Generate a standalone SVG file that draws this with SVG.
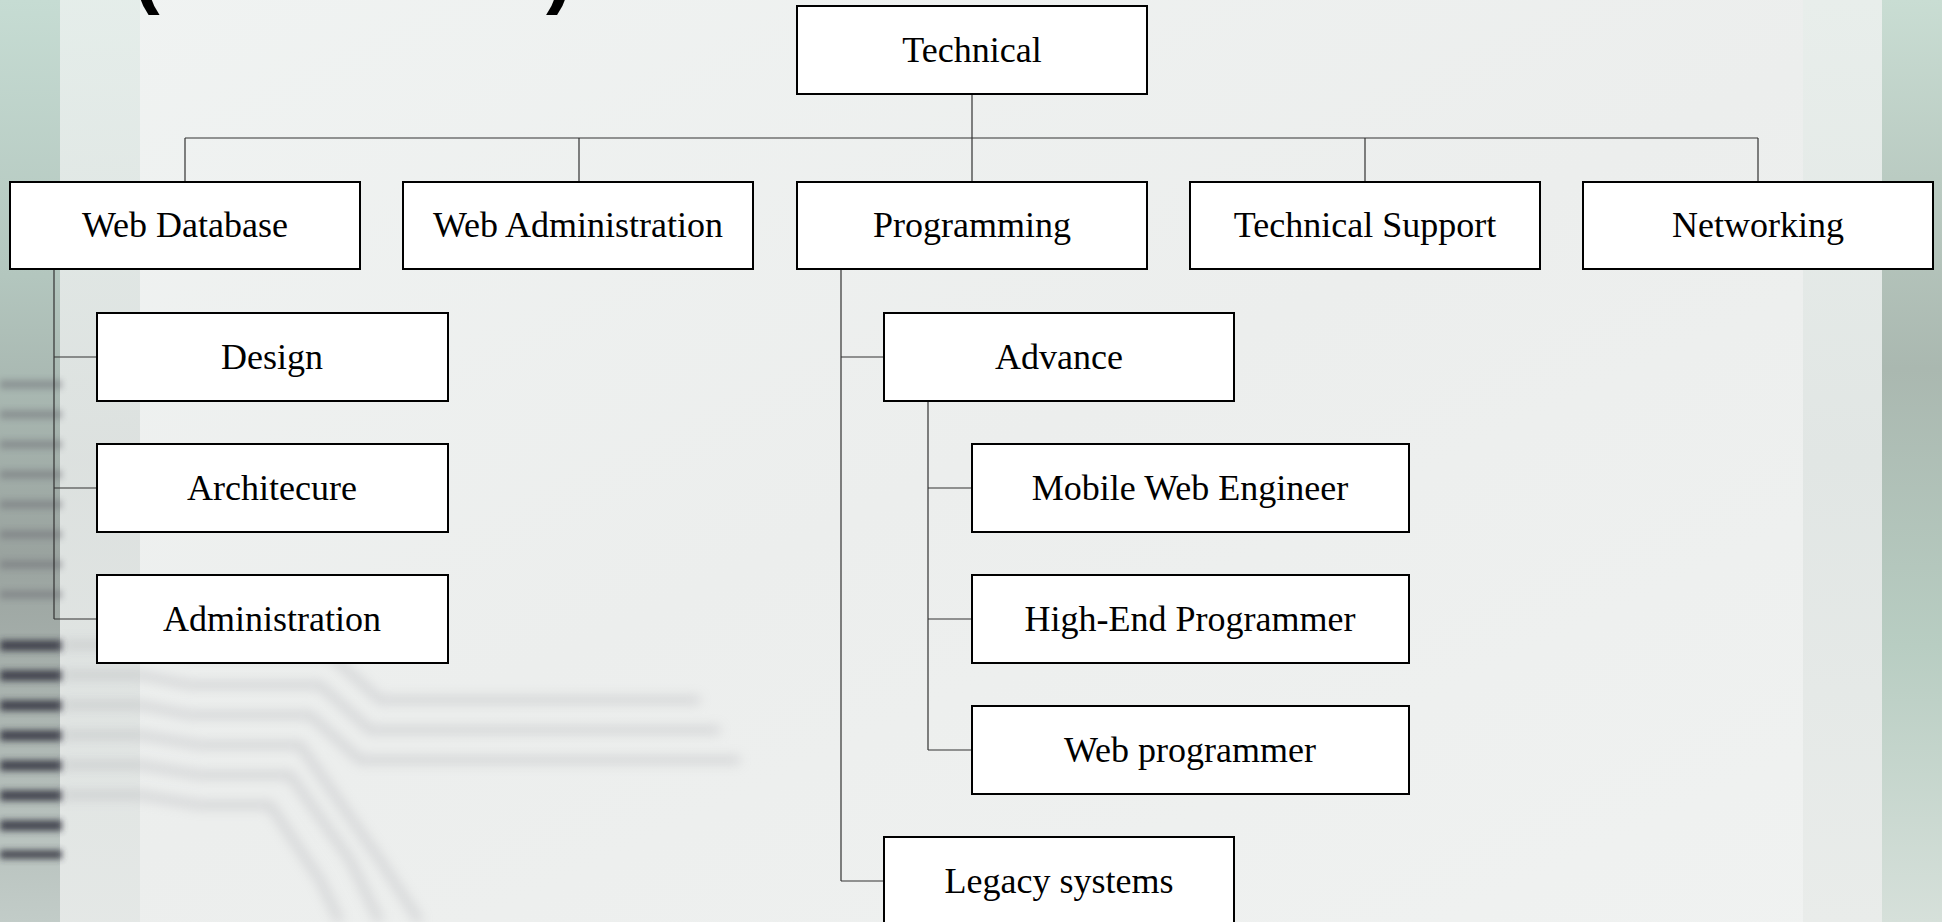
<svg xmlns="http://www.w3.org/2000/svg" width="1942" height="922" viewBox="0 0 1942 922">
<defs>
<linearGradient id="bg" x1="0" y1="0" x2="1" y2="1">
<stop offset="0" stop-color="#f0f3f2"/>
<stop offset="0.5" stop-color="#eceeed"/>
<stop offset="1" stop-color="#f0f2f1"/>
</linearGradient>
<linearGradient id="leftband" x1="0" y1="0" x2="0" y2="1">
<stop offset="0" stop-color="#c6dcd3"/>
<stop offset="0.3" stop-color="#b3c6be"/>
<stop offset="0.6" stop-color="#9aa39f"/>
<stop offset="1" stop-color="#c2ccc8"/>
</linearGradient>
<linearGradient id="leftband2" x1="0" y1="0" x2="0" y2="1">
<stop offset="0" stop-color="#e2ece8"/>
<stop offset="0.5" stop-color="#d8dddb"/>
<stop offset="1" stop-color="#e2e6e4"/>
</linearGradient>
<linearGradient id="rightband" x1="0" y1="0" x2="0" y2="1">
<stop offset="0" stop-color="#c9ddd3"/>
<stop offset="0.4" stop-color="#aab8b0"/>
<stop offset="0.7" stop-color="#b8cdc2"/>
<stop offset="1" stop-color="#d6e0da"/>
</linearGradient>
<linearGradient id="rightband2" x1="0" y1="0" x2="0" y2="1">
<stop offset="0" stop-color="#e8eeeb"/>
<stop offset="0.5" stop-color="#e1e6e4"/>
<stop offset="1" stop-color="#e9ecea"/>
</linearGradient>
<filter id="blur3" x="-10%" y="-10%" width="120%" height="120%"><feGaussianBlur stdDeviation="3"/></filter>
<filter id="blur6" x="-10%" y="-10%" width="120%" height="120%"><feGaussianBlur stdDeviation="6"/></filter>
</defs>
<style>
.box{fill:#ffffff;stroke:#000000;stroke-width:2}
.lbl{font-family:"Liberation Serif","Times New Roman",serif;font-size:36px;fill:#000000;text-anchor:middle}
.con{fill:none;stroke:#333333;stroke-width:1.2}
.ttl{font-family:"Liberation Sans",Arial,sans-serif;font-weight:bold;font-size:80px;fill:#000000}
</style>
<!-- background -->
<rect x="0" y="0" width="1942" height="922" fill="url(#bg)"/>
<rect x="0" y="0" width="60" height="922" fill="url(#leftband)"/>
<rect x="60" y="0" width="80" height="922" fill="url(#leftband2)" opacity="0.8"/>
<g fill="#6a6a72" opacity="0.45" filter="url(#blur3)">
<rect x="0" y="380" width="62" height="9"/>
<rect x="0" y="410" width="62" height="9"/>
<rect x="0" y="440" width="62" height="9"/>
<rect x="0" y="470" width="62" height="9"/>
<rect x="0" y="500" width="62" height="9"/>
<rect x="0" y="530" width="62" height="9"/>
<rect x="0" y="560" width="62" height="9"/>
<rect x="0" y="590" width="62" height="9"/>
</g>
<g fill="#2e2d3a" opacity="0.8" filter="url(#blur3)">
<rect x="0" y="640" width="62" height="11"/>
<rect x="0" y="670" width="62" height="11"/>
<rect x="0" y="700" width="62" height="11"/>
<rect x="0" y="730" width="62" height="11"/>
<rect x="0" y="760" width="62" height="11"/>
<rect x="0" y="790" width="62" height="11"/>
<rect x="0" y="820" width="62" height="11"/>
<rect x="0" y="850" width="62" height="9"/>
</g>
<g fill="none" stroke="#a2a2a8" stroke-width="8" opacity="0.35" filter="url(#blur6)">
<path d="M60 645 H140 L190 655 H330 L380 700 H700"/>
<path d="M60 675 H140 L190 685 H320 L370 730 H720"/>
<path d="M60 705 H140 L190 715 H310 L360 760 H740"/>
<path d="M60 735 H140 L200 745 H300 L380 860 L420 922"/>
<path d="M60 765 H140 L200 775 H290 L350 860 L380 922"/>
<path d="M60 795 H140 L200 805 H270 L320 880 L340 922"/>
</g>
<rect x="1803" y="0" width="79" height="922" fill="url(#rightband2)"/>
<rect x="1882" y="0" width="60" height="922" fill="url(#rightband)"/>
<!-- cut-off title brackets -->
<text class="ttl" x="133" y="-2">(</text>
<text class="ttl" x="546" y="-2">)</text>
<!-- connectors -->
<g id="connectors" class="con">
<path class="con" d="M972 94 V138"/>
<path class="con" d="M185 138 H1758"/>
<path class="con" d="M185 138 V182 M579 138 V182 M972 138 V182 M1365 138 V182 M1758 138 V182"/>
<path class="con" d="M54 269 V619 M54 357 H97 M54 488 H97 M54 619 H97"/>
<path class="con" d="M841 269 V881 M841 357 H884 M841 881 H884"/>
<path class="con" d="M928 401 V750 M928 488 H972 M928 619 H972 M928 750 H972"/>
</g>
<!-- nodes -->
<g id="technical"><rect class="box" x="797" y="6" width="350" height="88"/><text class="lbl" x="972" y="62">Technical</text></g>
<g id="web-database"><rect class="box" x="10" y="182" width="350" height="87"/><text class="lbl" x="185" y="237">Web Database</text></g>
<g id="web-administration"><rect class="box" x="403" y="182" width="350" height="87"/><text class="lbl" x="578" y="237">Web Administration</text></g>
<g id="programming"><rect class="box" x="797" y="182" width="350" height="87"/><text class="lbl" x="972" y="237">Programming</text></g>
<g id="technical-support"><rect class="box" x="1190" y="182" width="350" height="87"/><text class="lbl" x="1365" y="237">Technical Support</text></g>
<g id="networking"><rect class="box" x="1583" y="182" width="350" height="87"/><text class="lbl" x="1758" y="237">Networking</text></g>
<g id="design"><rect class="box" x="97" y="313" width="351" height="88"/><text class="lbl" x="272" y="369">Design</text></g>
<g id="architecure"><rect class="box" x="97" y="444" width="351" height="88"/><text class="lbl" x="272" y="500">Architecure</text></g>
<g id="administration"><rect class="box" x="97" y="575" width="351" height="88"/><text class="lbl" x="272" y="631">Administration</text></g>
<g id="advance"><rect class="box" x="884" y="313" width="350" height="88"/><text class="lbl" x="1059" y="369">Advance</text></g>
<g id="mobile-web-engineer"><rect class="box" x="972" y="444" width="437" height="88"/><text class="lbl" x="1190" y="500">Mobile Web Engineer</text></g>
<g id="high-end-programmer"><rect class="box" x="972" y="575" width="437" height="88"/><text class="lbl" x="1190" y="631">High-End Programmer</text></g>
<g id="web-programmer"><rect class="box" x="972" y="706" width="437" height="88"/><text class="lbl" x="1190" y="762">Web programmer</text></g>
<g id="legacy-systems"><rect class="box" x="884" y="837" width="350" height="88"/><text class="lbl" x="1059" y="893">Legacy systems</text></g>
</svg>
